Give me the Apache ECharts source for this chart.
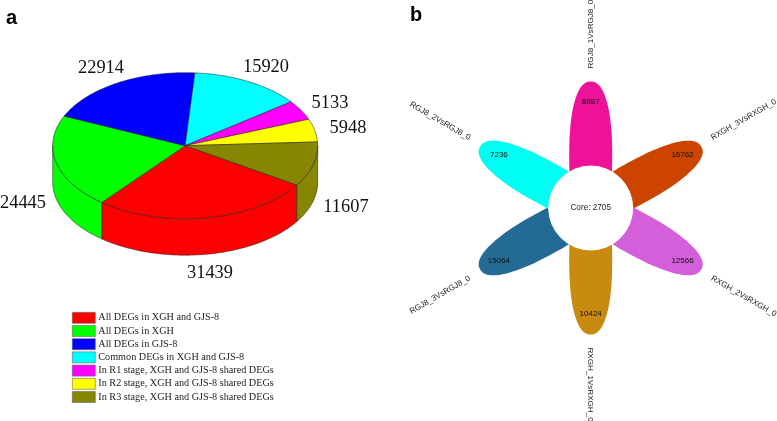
<!DOCTYPE html>
<html><head><meta charset="utf-8">
<style>html,body{margin:0;padding:0;background:#fff}#c{width:777px;height:421px}</style>
<script src="https://cdn.jsdelivr.net/npm/echarts@6/dist/echarts.min.js"></script>
</head><body><div id="c"></div>
<script>
// ---- data ----
const sliceNames = ['All DEGs in XGH and GJS-8','All DEGs in XGH','All DEGs in GJS-8','Common DEGs in XGH and GJS-8','In R1 stage, XGH and GJS-8 shared DEGs','In R2 stage, XGH and GJS-8 shared DEGs','In R3 stage, XGH and GJS-8 shared DEGs'];
const sliceValues = [31439,24445,22914,15920,5133,5948,11607];
const sliceColors = ['#ff0000','#00ff00','#0000ff','#00ffff','#ff00ff','#ffff00','#868600'];
const petalNames = ['RGJ8_1VsRGJ8_0','RXGH_3VsRXGH_0','RXGH_2VsRXGH_0','RXGH_1VsRXGH_0','RGJ8_3VsRGJ8_0','RGJ8_2VsRGJ8_0'];
const petalValues = [8887,16762,12566,10424,15064,7236];
const petalColors = ['#ee1199','#cc4400','#d45fdb','#c98a10','#236a95','#00fff3'];
const coreValue = 2705;

// ---- layout ----
const pie = {cx:185.2, cy:145.7, rx:132.5, ry:73, depth:36.5, start:32.6};
const labelCenters = [[210,273],[23,203],[101,68],[266,67],[330,103],[348,128],[346,207]];
const petalAngles = [0,61,119,180,241,299];
const flower = {cx:590.7, cy:208, core:42, petalRx:21.5, petalRy:74.5, petalAt:52, petalPow:2.3, numAt:106, nameAt:139.5};
const serif = '"Liberation Serif"', sans = '"Liberation Sans"';
const total = sliceValues.reduce((a,b)=>a+b,0);
const rad = d => d*Math.PI/180;
const pt = (d,off=0) => [pie.cx+pie.rx*Math.cos(rad(d)), pie.cy+pie.ry*Math.sin(rad(d))+off];
function arc(a,b,off){const out=[];const n=Math.max(2,Math.ceil(Math.abs(b-a)));for(let i=0;i<=n;i++)out.push(pt(a+(b-a)*i/n,off));return out;}

function sliceRender(idx){
  return function(params,api){
    const v = api.value(0);
    const before = sliceValues.slice(0,idx).reduce((a,b)=>a+b,0);
    const a = pie.start + before/total*360, b = a + v/total*360;
    const children = [];
    const line = {stroke:'#1a1a1a',lineWidth:.5};
    const s = Math.max(a,0), e = Math.min(b,180);
    let spans = [];
    if (e>s) spans.push([s,e]);
    if (b>360) spans.push([0,b-360]);
    spans.forEach(([p,q])=>{
      const top = arc(p,q,0), bot = arc(q,p,pie.depth);
      children.push({type:'polygon',shape:{points:top.concat(bot)},style:Object.assign({fill:sliceColors[idx]},line)});
    });
    children.push({type:'polygon',shape:{points:[[pie.cx,pie.cy]].concat(arc(a,b,0))},style:Object.assign({fill:sliceColors[idx]},line)});
    children.push({type:'text',x:labelCenters[idx][0],y:labelCenters[idx][1],style:{text:String(v),align:'center',verticalAlign:'middle',fontFamily:serif,fontSize:18.4,fill:'#111'}});
    return {type:'group',children};
  };
}

function petalOutline(){
  const pts=[], k=2/flower.petalPow;
  for(let t=0;t<360;t+=4){
    const c=Math.cos(rad(t)), s=Math.sin(rad(t));
    pts.push([flower.petalRx*Math.sign(c)*Math.pow(Math.abs(c),k), flower.petalRy*Math.sign(s)*Math.pow(Math.abs(s),k)]);
  }
  return pts;
}
function petalRender(params,api){
  const i = params.dataIndex, v = api.value(0), th = rad(i*60), pa = rad(petalAngles[i]);
  const at = (d,ang=th) => [flower.cx+d*Math.sin(ang), flower.cy-d*Math.cos(ang)];
  const c = at(flower.petalAt,pa), n = at(flower.numAt), t = at(flower.nameAt);
  let r = 90-i*60; if (r<-90) r+=180;
  return {type:'group',children:[
    {type:'polygon',x:c[0],y:c[1],rotation:-pa,shape:{points:petalOutline()},style:{fill:petalColors[i]}},
    {type:'text',x:n[0],y:n[1],z2:5,style:{text:String(v),align:'center',verticalAlign:'middle',fontFamily:sans,fontSize:8,fill:'#111'}},
    {type:'text',x:t[0],y:t[1],rotation:rad(r),style:{text:petalNames[i],align:i<4?'left':'right',verticalAlign:'middle',fontFamily:sans,fontSize:8.1,fill:'#222'}}
  ]};
}
function coreRender(params,api){
  return {type:'group',children:[
    {type:'circle',shape:{cx:flower.cx,cy:flower.cy,r:flower.core},style:{fill:'#fff',stroke:'#fff',lineWidth:1}},
    {type:'text',x:flower.cx,y:flower.cy,style:{text:'Core: '+api.value(0),align:'center',verticalAlign:'middle',fontFamily:sans,fontSize:8.2,fill:'#222'}}
  ]};
}

const series = sliceNames.map((name,i)=>({
  type:'custom',name,coordinateSystem:'none',silent:true,animation:false,
  itemStyle:{color:sliceColors[i]},data:[[sliceValues[i]]],renderItem:sliceRender(i)
}));
series.push({type:'custom',name:'petals',coordinateSystem:'none',silent:true,animation:false,z:3,data:petalValues.map(v=>[v]),renderItem:petalRender});
series.push({type:'custom',name:'core',coordinateSystem:'none',silent:true,animation:false,z:4,data:[[coreValue]],renderItem:coreRender});

echarts.init(document.getElementById('c'),null,{renderer:'canvas'}).setOption({
  animation:false,backgroundColor:'#fff',
  legend:{data:sliceNames,orient:'vertical',left:72,top:312,padding:0,itemWidth:23,itemHeight:11,itemGap:1.6,icon:'rect',selectedMode:false,
    itemStyle:{borderColor:'#666',borderWidth:.6},
    textStyle:{fontFamily:serif,fontSize:10.2,lineHeight:11,color:'#222',padding:[0,0,0,-2]}},
  graphic:[
    {type:'text',left:6,top:8,style:{text:'a',fontFamily:sans,fontWeight:'bold',fontSize:20,fill:'#000'}},
    {type:'text',left:410,top:5,style:{text:'b',fontFamily:sans,fontWeight:'bold',fontSize:20,fill:'#000'}}
  ],
  series
});
</script></body></html>
